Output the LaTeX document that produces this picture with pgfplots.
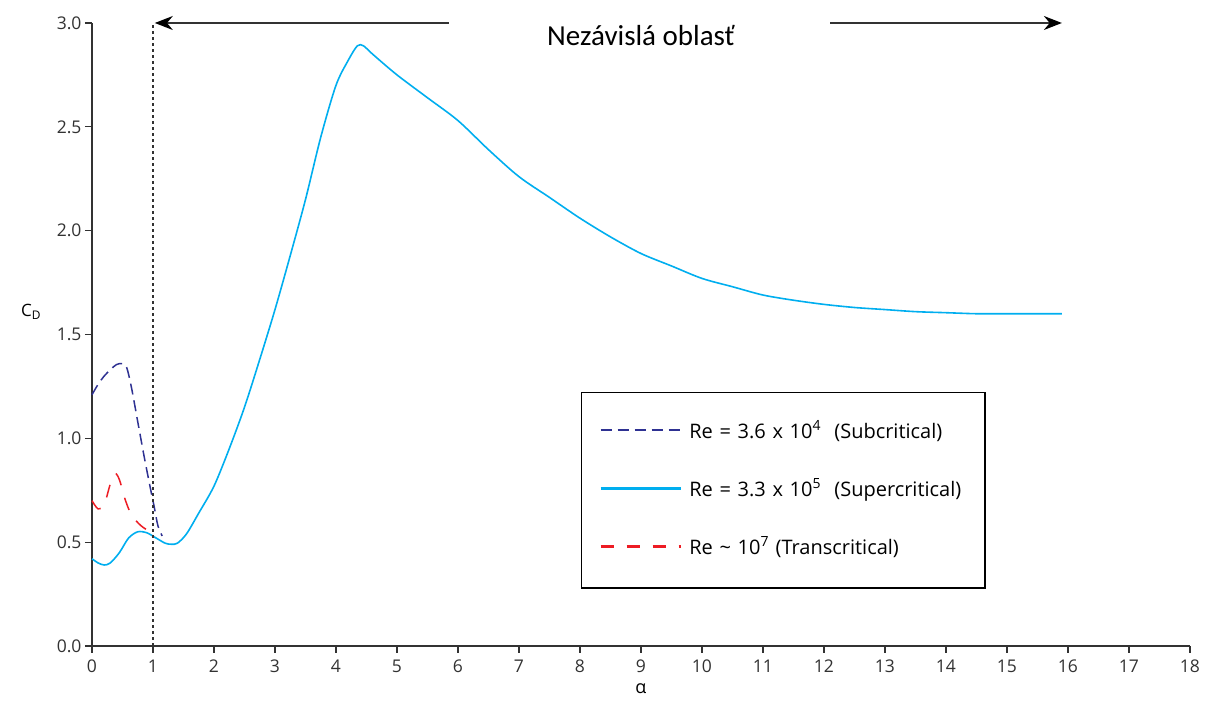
\documentclass[border=0pt]{standalone}
\usepackage{pgfplots}
\pgfplotsset{compat=1.18}
\usepackage{fontspec}
\setmainfont{Open Sans}
\newfontfamily\calib{Carlito}
\usetikzlibrary{arrows.meta}
\definecolor{subc}{RGB}{46,49,146}
\definecolor{supc}{RGB}{0,174,239}
\definecolor{trc}{RGB}{237,28,36}
\definecolor{axc}{RGB}{50,50,50}
\begin{document}
\begin{tikzpicture}
\begin{axis}[
  at={(0,0)}, anchor=south west,
  scale only axis, width=1098pt, height=623pt,
  xmin=0, xmax=18, ymin=0, ymax=3.0,
  axis x line*=bottom, axis y line*=left,
  axis line style={axc, line width=1.3pt, -},
  tick style={axc, line width=1.1pt},
  tick align=outside, major tick length=7pt,
  xtick={0,1,...,18}, ytick={0,0.5,...,3.0},
  yticklabel style={/pgf/number format/.cd, fixed, fixed zerofill, precision=1},
  xticklabel style={yshift=-3pt},
  /pgf/number format/assume math mode=true,
  ticklabel style={font=\fontsize{17.5}{20}\selectfont, text=axc},
  xlabel={α}, xlabel style={font=\fontsize{18}{21}\selectfont, yshift=-4pt},
  clip=false,
  legend style={at={(axis cs:8.02,1.22)}, anchor=north west, draw=none, fill=none,
    font=\fontsize{20}{22}\selectfont, inner xsep=18pt, inner ysep=26pt,
    row sep=35pt, nodes={text width=300pt, inner ysep=2pt}},
  legend cell align=left,
  legend image code/.code={\draw[#1, line width=2.2pt] (0pt,0pt) -- (80pt,0pt); \path (86pt,0pt);},
]
\addplot[draw=subc, line width=1.5pt, dash pattern=on 11pt off 6pt, smooth, tension=0.5] coordinates {
(0,1.21)(0.1,1.26)(0.2,1.30)(0.3,1.33)(0.4,1.355)(0.5,1.36)(0.57,1.34)(0.65,1.24)(0.75,1.08)(0.85,0.92)(0.95,0.77)(1.02,0.67)(1.08,0.58)(1.15,0.53)};
\addlegendentry{Re = 3.6 x 10\textsuperscript{4}\ \ (Subcritical)}
\addplot[draw=supc, line width=1.6pt, smooth, tension=0.5] coordinates {
(0,0.42)(0.1,0.40)(0.2,0.39)(0.3,0.40)(0.45,0.45)(0.6,0.52)(0.75,0.55)(0.9,0.545)(1.05,0.52)(1.2,0.495)(1.3,0.49)(1.4,0.495)(1.55,0.54)(1.75,0.64)(2.0,0.77)(2.25,0.95)(2.5,1.15)(2.75,1.38)(3.0,1.62)(3.25,1.88)(3.5,2.15)(3.75,2.45)(4.0,2.70)(4.2,2.82)(4.35,2.89)(4.45,2.89)(4.6,2.85)(5.0,2.75)(5.5,2.64)(6.0,2.53)(6.5,2.39)(7.0,2.26)(7.5,2.16)(8.0,2.06)(8.5,1.97)(9.0,1.89)(9.5,1.83)(10,1.77)(10.5,1.73)(11,1.69)(11.5,1.665)(12,1.645)(12.5,1.63)(13,1.62)(13.5,1.61)(14,1.605)(14.5,1.60)(15,1.60)(15.5,1.60)(15.9,1.60)};
\addlegendentry{Re = 3.3 x 10\textsuperscript{5}\ \ (Supercritical)}
\addplot[draw=trc, line width=1.5pt, dash pattern=on 13pt off 13pt, smooth, tension=0.5] coordinates {
(0,0.70)(0.1,0.66)(0.2,0.68)(0.3,0.78)(0.38,0.83)(0.45,0.80)(0.55,0.70)(0.65,0.63)(0.8,0.58)(0.95,0.55)};
\addlegendentry{Re \textasciitilde\ 10\textsuperscript{7} (Transcritical)}
\addplot[forget plot, draw=axc, line width=1.5pt, dash pattern=on 3pt off 3pt] coordinates {(1,0)(1,3.0)};
\draw[black, line width=1.4pt] (axis cs:8.02,1.22) rectangle (axis cs:14.64,0.28);
\draw[axc, line width=1.5pt, -{Stealth[length=18pt, width=14pt, black]}] (axis cs:5.85,3.0) -- (axis cs:1.03,3.0);
\draw[axc, line width=1.5pt, -{Stealth[length=18pt, width=14pt, black]}] (axis cs:12.1,3.0) -- (axis cs:15.9,3.0);
\node[font=\calib\fontsize{29}{32}\selectfont] at (axis cs:9.0,2.94) {Nezávislá oblasť};
\node[font=\fontsize{17}{21}\selectfont] at (axis cs:-1.0,1.61) {C\textsubscript{D}};
\end{axis}
\useasboundingbox (-92pt,-60pt) rectangle (1115pt,646pt);
\end{tikzpicture}
\end{document}
